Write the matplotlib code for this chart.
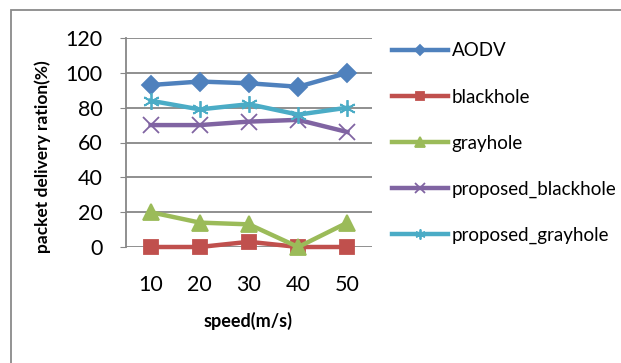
import matplotlib.pyplot as plt
from matplotlib.patches import Rectangle

speeds = ["10", "20", "30", "40", "50"]
aodv = [93, 95, 94, 92, 100]
blackhole = [0, 0, 3, 0, 0]
grayhole = [20, 14, 13, 0, 14]
prop_black = [70, 70, 72, 73, 66]
prop_gray = [84, 79, 82, 76, 80]

series = [
    ("AODV", aodv, "#4F81BD", "D", 9),
    ("blackhole", blackhole, "#C0504D", "s", 10),
    ("grayhole", grayhole, "#9BBB59", "^", 11),
    ("proposed_blackhole", prop_black, "#8064A2", "x", 11),
    ("proposed_grayhole", prop_gray, "#4BACC6", (6, 2, 0), 12),
]

plt.rcParams['font.family'] = ['Lato', 'DejaVu Sans']

fig = plt.figure(figsize=(6.21, 3.63), dpi=100)
W, H = 621, 363
ax = fig.add_axes([126 / W, 1 - 247 / H, 246 / W, 209 / H])

x = range(1, len(speeds) + 1)
handles = []
for name, vals, col, mk, ms in series:
    h, = ax.plot(x, vals, color=col, lw=3.2, marker=mk, ms=ms,
                 mec=col, mfc=col, mew=1.3, label=name, clip_on=False, zorder=3)
    handles.append(h)

ax.set_xlim(0.5, 5.5)
ax.set_ylim(0, 120)
ax.set_yticks(range(0, 121, 20))
ax.set_xticks(list(x))
ax.set_xticklabels(speeds)
ax.yaxis.grid(True, color="#878787", lw=1.3)
ax.set_axisbelow(True)
for s in ["top", "right", "bottom"]:
    ax.spines[s].set_visible(False)
ax.spines["left"].set_color("#878787")
ax.spines["left"].set_linewidth(1.3)
ax.tick_params(axis="y", length=4, color="#878787", pad=13, labelsize=15.5)
ax.tick_params(axis="x", length=0, pad=20, labelsize=15.5)

fig.text(43 / W, 1 - 157 / H, "packet delivery ration(%)", rotation=90,
         ha="center", va="center", fontsize=12.5, fontweight="bold")
fig.text(248 / W, 1 - 321 / H, "speed(m/s)", ha="center", va="center",
         fontsize=13, fontweight="bold")

fig.legend(handles=handles, loc="upper left", bbox_to_anchor=(384 / W, 1 - 35 / H),
           frameon=False, fontsize=13.5, handlelength=3.0, handletextpad=0.2,
           labelspacing=1.55, markerscale=0.6, borderaxespad=0)

fig.patches.append(Rectangle((11 / W, -0.1), 1.2, 1 - 10 / H + 0.1,
                             transform=fig.transFigure, fill=False,
                             ec="#8a8a8a", lw=1.3))

fig.savefig("out.png", dpi=100)
